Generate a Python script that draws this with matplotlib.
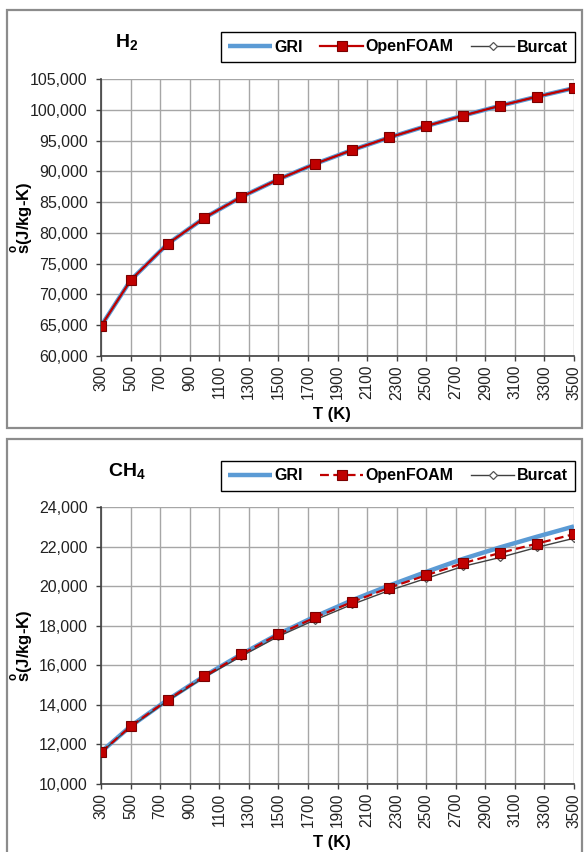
import matplotlib
matplotlib.use("Agg")
import matplotlib.pyplot as plt
from matplotlib.patches import Rectangle
from matplotlib.ticker import FuncFormatter, MultipleLocator

plt.rcParams['font.family'] = ['Liberation Sans', 'DejaVu Sans']
plt.rcParams['mathtext.fontset'] = 'custom'
plt.rcParams['mathtext.rm'] = 'Liberation Sans'
plt.rcParams['mathtext.bf'] = 'Liberation Sans:bold'
plt.rcParams['mathtext.it'] = 'Liberation Sans:italic'

# ---------------- data ----------------
T = [300, 500, 750, 1000, 1250, 1500, 1750, 2000, 2250, 2500, 2750, 3000, 3250, 3500]

h2_gri = [64850, 72300, 78200, 82450, 85850, 88700, 91230, 93470, 95500, 97350, 99060, 100650, 102130, 103520]
h2_openfoam = [64850, 72300, 78200, 82450, 85850, 88700, 91230, 93470, 95500, 97350, 99060, 100650, 102130, 103520]
h2_burcat = [64850, 72300, 78200, 82450, 85850, 88700, 91230, 93470, 95500, 97350, 99060, 100650, 102130, 103520]

ch4_gri = [11620, 12920, 14250, 15460, 16560, 17580, 18470, 19290, 20030, 20720, 21380, 21960, 22500, 23020]
ch4_openfoam = [11600, 12910, 14250, 15450, 16550, 17570, 18420, 19200, 19920, 20550, 21160, 21680, 22150, 22630]
ch4_burcat = [11600, 12890, 14200, 15400, 16460, 17460, 18300, 19080, 19780, 20390, 21000, 21450, 21960, 22420]

xticks = list(range(300, 3501, 200))
series_names = ["GRI", "OpenFOAM", "Burcat"]

W, H = 587, 852
fig = plt.figure(figsize=(W / 100, H / 100), dpi=100)

def fx(px):
    return px / W

def fy(py):
    return 1 - py / H

# panel borders
for (x0, y0, x1, y1) in [(7, 10, 582, 428), (7, 439, 582, 870)]:
    fig.patches.append(Rectangle((fx(x0), fy(y1)), fx(x1) - fx(x0), fy(y0) - fy(y1),
                                 transform=fig.transFigure, fill=False,
                                 edgecolor='#8c8c8c', lw=1.6, zorder=0))

fmt = FuncFormatter(lambda v, p: f"{int(v):,}")

panels = [
    dict(top=79, bot=356, ylim=(60000, 105000), step=5000, title=r"$\mathbf{H_2}$",
         data=(h2_gri, h2_openfoam, h2_burcat), ofls='-', ptop=10, xlab_y=414),
    dict(top=507, bot=784, ylim=(10000, 24000), step=2000, title=r"$\mathbf{CH_4}$",
         data=(ch4_gri, ch4_openfoam, ch4_burcat), ofls=(0, (4, 2)), ptop=439, xlab_y=842),
]

left, right = 101, 574
for p in panels:
    ax = fig.add_axes([fx(left), fy(p['bot']), fx(right) - fx(left), fy(p['top']) - fy(p['bot'])])
    gri, of, bu = p['data']
    l1, = ax.plot(T, gri, color='#5b9bd5', lw=3.2, solid_capstyle='butt', zorder=3, label=series_names[0])
    l3, = ax.plot(T, bu, color='#404040', lw=1.0, marker='D', markersize=4.5,
                  markerfacecolor='white', markeredgecolor='#555555', markeredgewidth=0.9,
                  zorder=4, label=series_names[2])
    l2, = ax.plot(T, of, color='#c00000', lw=1.6, ls=p['ofls'], marker='s', markersize=6.5,
                  markerfacecolor='#c00000', markeredgecolor='#7a0000', markeredgewidth=0.8,
                  zorder=5, label=series_names[1])
    ax.set_xlim(300, 3500)
    ax.set_ylim(*p['ylim'])
    ax.set_xticks(xticks)
    ax.set_xticklabels([str(t) for t in xticks], rotation=90)
    ax.yaxis.set_major_locator(MultipleLocator(p['step']))
    ax.yaxis.set_major_formatter(fmt)
    ax.grid(True, color='#a6a6a6', lw=1.0)
    ax.set_axisbelow(True)
    for s in ['top', 'right']:
        ax.spines[s].set_visible(False)
    for s in ['left', 'bottom']:
        ax.spines[s].set_color('#404040')
        ax.spines[s].set_linewidth(1.2)
    ax.tick_params(axis='y', direction='out', length=3.5, width=1, color='#404040',
                   labelsize=11.5, pad=6, labelcolor='#222222')
    ax.tick_params(axis='x', direction='out', length=3.5, width=1, color='#404040',
                   labelsize=11.2, pad=3, labelcolor='#222222')
    # x label
    fig.text(fx((left + right) / 2 - 6), fy(p['xlab_y']), "T (K)", ha='center', va='center',
             fontsize=12, fontweight='bold')
    # y label
    fig.text(fx(22), fy((p['top'] + p['bot']) / 2), r"$\mathbf{\overset{o}{s}}$" + "(J/kg-K)",
             rotation=90, ha='center', va='center', fontsize=12, fontweight='bold')
    # title
    fig.text(fx(127), fy(p['ptop'] + 32), p['title'], ha='center', va='center', fontsize=14)
    # legend
    leg = fig.legend([l1, l2, l3], series_names, loc='center',
                     bbox_to_anchor=(fx(398), fy(p['ptop'] + 37)), ncol=3,
                     frameon=True, fancybox=False, edgecolor='black', framealpha=1,
                     handlelength=2.7, handletextpad=0.15, columnspacing=1.1,
                     borderpad=0.45, prop=dict(size=11.5, weight='bold'))
    leg.get_frame().set_linewidth(1.0)

fig.savefig("out.png", dpi=100)
